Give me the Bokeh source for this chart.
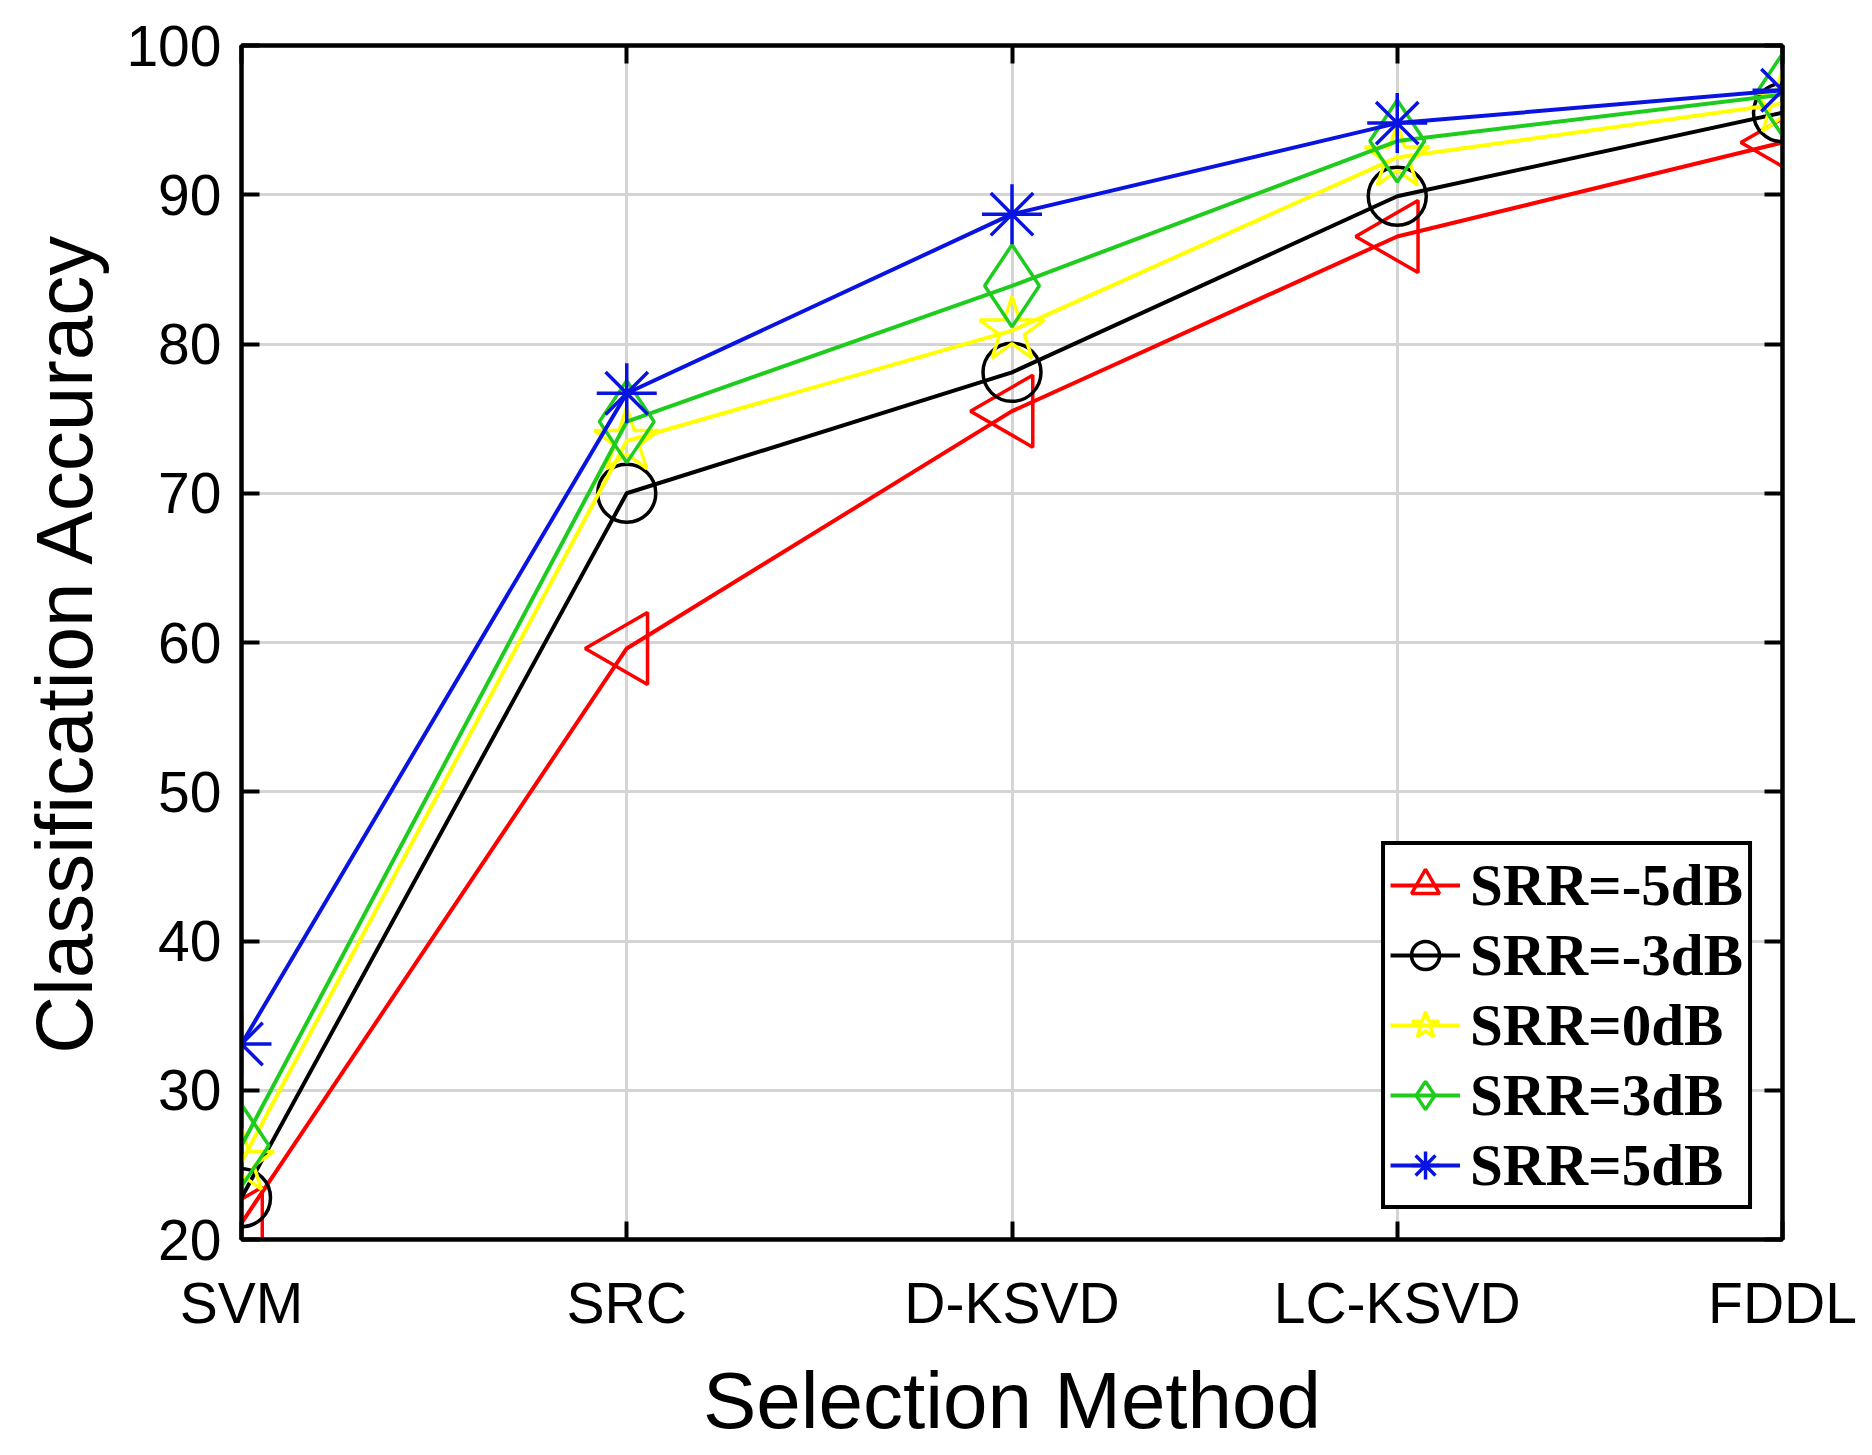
from bokeh.plotting import figure
from bokeh.models import Range1d, FixedTicker, LinearAxis
from bokeh.embed import file_html
from bokeh.resources import INLINE
import numpy as np


#data
methods = ["SVM", "SRC", "D-KSVD", "LC-KSVD", "FDDL"]
y_ticks = [20, 30, 40, 50, 60, 70, 80, 90, 100]
srr_m5 = [21.1, 59.6, 75.5, 87.2, 93.5]
srr_m3 = [22.8, 70.0, 78.1, 89.9, 95.5]
srr_0 = [25.2, 73.5, 80.9, 92.5, 96.1]
srr_3 = [26.3, 74.8, 83.9, 93.6, 96.7]
srr_5 = [33.1, 76.7, 88.7, 94.8, 97.0]
series_labels = ["SRR=-5dB", "SRR=-3dB", "SRR=0dB", "SRR=3dB", "SRR=5dB"]


#styles
colors = ["#FF0000", "#000000", "#FFFF00", "#1ECC1E", "#0A14E0"]
markers = ["triangle", "circle", "star", "diamond", "asterisk"]
sizes = [72, 58, 68, 82, 60]
angles = [np.pi / 2, 0, 0, 0, 0]

x = list(range(len(methods)))
sans = "Liberation Sans"


p = figure(width=1864, height=1447, output_backend="svg", toolbar_location=None,
           x_range=Range1d(0, len(methods) - 1), y_range=Range1d(20, 100),
           min_border_left=241, min_border_right=82, min_border_top=45, min_border_bottom=203,
           background_fill_color="white", border_fill_color="white",
           outline_line_color="black", outline_line_width=4)

#axes
p.xaxis.ticker = FixedTicker(ticks=x)
p.xaxis.major_label_overrides = {i: m for i, m in enumerate(methods)}
p.yaxis.ticker = FixedTicker(ticks=y_ticks)
p.xaxis.axis_label = "Selection Method"
p.yaxis.axis_label = "Classification Accuracy"
for ax in [p.xaxis[0], p.yaxis[0]]:
    ax.axis_line_width = 4
    ax.major_tick_line_width = 4
    ax.major_tick_in = 18
    ax.major_tick_out = 0
    ax.minor_tick_line_color = None
    ax.major_label_text_font = sans
    ax.major_label_text_font_size = "57px"
    ax.major_label_text_color = "black"
    ax.axis_label_text_font = sans
    ax.axis_label_text_font_size = "80px"
    ax.axis_label_text_font_style = "normal"
    ax.axis_label_text_color = "black"
p.xaxis.major_label_standoff = 31
p.yaxis.major_label_standoff = 20
p.xaxis.axis_label_standoff = 18
p.yaxis.axis_label_standoff = 14

#box ticks on the right and top
right_ax = LinearAxis(ticker=FixedTicker(ticks=y_ticks))
top_ax = LinearAxis(ticker=FixedTicker(ticks=x))
for ax in [right_ax, top_ax]:
    ax.axis_line_width = 4
    ax.major_tick_line_width = 4
    ax.major_tick_in = 18
    ax.major_tick_out = 0
    ax.minor_tick_line_color = None
    ax.major_label_text_color = None
    ax.major_label_text_font_size = "10px"
    ax.major_label_standoff = 0
p.add_layout(right_ax, "right")
p.add_layout(top_ax, "above")

#grid
p.xgrid.ticker = FixedTicker(ticks=x)
p.ygrid.ticker = FixedTicker(ticks=y_ticks)
p.grid.grid_line_color = "#D4D4D4"
p.grid.grid_line_width = 3

#series
all_series = [srr_m5, srr_m3, srr_0, srr_3, srr_5]
for i, ys in enumerate(all_series):
    p.line(x, ys, line_color=colors[i], line_width=4, legend_label=series_labels[i])
    p.scatter(x, ys, marker=markers[i], size=sizes[i], angle=angles[i],
              fill_color=None, line_color=colors[i], line_width=3.5,
              legend_label=series_labels[i])

#legend
p.legend.location = "bottom_right"
p.legend.margin = 30
p.legend.padding = 5
p.legend.spacing = 0
p.legend.glyph_width = 70
p.legend.glyph_height = 70
p.legend.label_height = 70
p.legend.label_standoff = 10
p.legend.label_text_font = "Liberation Serif"
p.legend.label_text_font_style = "bold"
p.legend.label_text_font_size = "59px"
p.legend.label_text_color = "black"
p.legend.border_line_color = "black"
p.legend.border_line_alpha = 1.0
p.legend.border_line_width = 4
p.legend.background_fill_alpha = 1.0

open("out.html", "w").write(file_html(p, INLINE))
